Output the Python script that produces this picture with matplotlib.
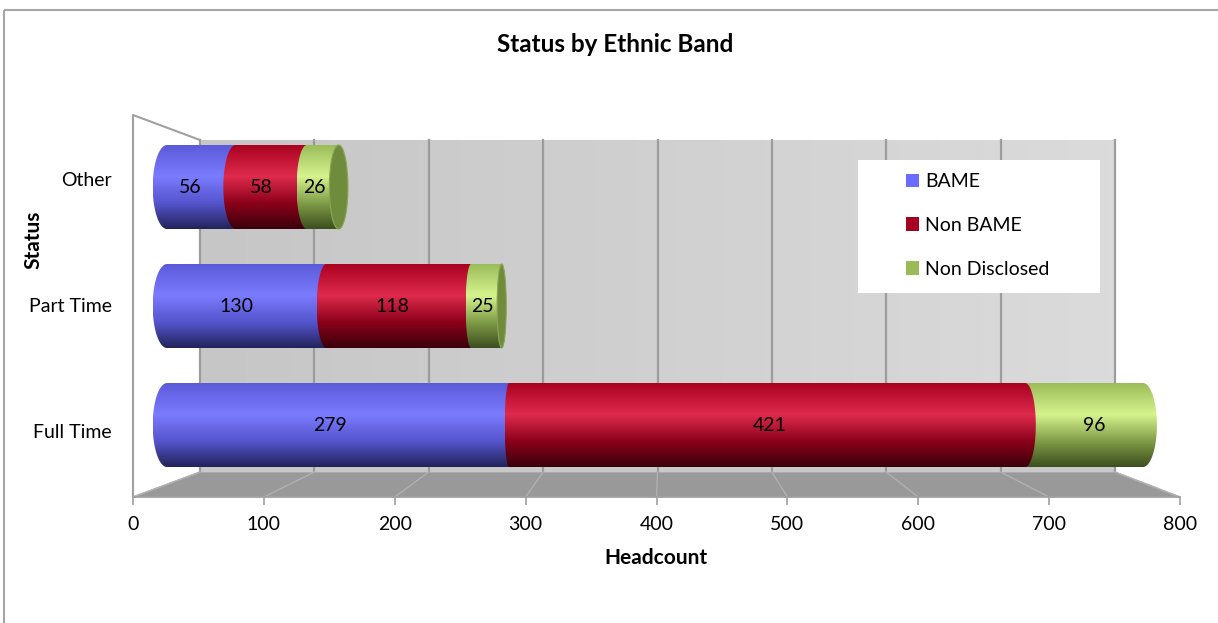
import numpy as np
import matplotlib.pyplot as plt
from matplotlib.patches import Polygon, Rectangle, Ellipse, Patch, PathPatch
from matplotlib.path import Path
from matplotlib.colors import LinearSegmentedColormap

plt.rcParams['font.family'] = ['Lato', 'DejaVu Sans']

# headcount by status (bottom to top) and ethnic band
status = ['Full Time', 'Part Time', 'Other']
bame = [279, 130, 56]
non_bame = [421, 118, 58]
non_disclosed = [96, 25, 26]
band_names = ['BAME', 'Non BAME', 'Non Disclosed']
x_ticks = [0, 100, 200, 300, 400, 500, 600, 700, 800]

W, H = 1218, 623
fig = plt.figure(figsize=(W / 100, H / 100), dpi=100)


def fig_box(x0, y0, x1, y1):
    # pixel box (origin top-left) -> figure fraction rect
    return [x0 / W, 1 - y1 / H, (x1 - x0) / W, (y1 - y0) / H]


# ---- background: frame, walls, floor (pixel coords) ----
bg = fig.add_axes([0, 0, 1, 1])
bg.set_xlim(0, W)
bg.set_ylim(H, 0)
bg.axis('off')

bg.add_patch(Rectangle((4, 10), 1400, 800, fill=False, edgecolor='#a6a6a6', lw=1.5))

front_x0, front_x1 = 133, 1180
back_x0, back_x1 = 200, 1115
wall_top, back_floor, front_floor = 140, 472, 497

wall_grad = np.linspace(0, 1, 256).reshape(1, -1)
wall_cmap = LinearSegmentedColormap.from_list('wall', ['#c6c6c6', '#dbdbdb'])
bg.imshow(wall_grad, cmap=wall_cmap, aspect='auto',
          extent=(back_x0, back_x1, back_floor, wall_top), zorder=1)

# left side wall outline
bg.plot([front_x0, front_x0, back_x0], [front_floor, 115, wall_top], color='#a0a0a0', lw=1.5, zorder=3)

# floor
bg.add_patch(Polygon([(front_x0, front_floor), (back_x0, back_floor), (back_x1, back_floor),
                      (front_x1, front_floor)], closed=True, facecolor='#999999',
                     edgecolor='#b4b4b4', lw=1, zorder=2))
bg.add_patch(Rectangle((back_x0, back_floor - 5), back_x1 - back_x0, 5,
                       facecolor='#c9c9c9', edgecolor='none', zorder=2))

# ---- front value axis ----
axf = fig.add_axes(fig_box(front_x0, 490, front_x1, front_floor))
axf.set_xlim(0, 800)
axf.set_xticks(x_ticks)
axf.set_yticks([])
for side in ['top', 'left', 'right']:
    axf.spines[side].set_visible(False)
axf.spines['bottom'].set_color('#a0a0a0')
axf.spines['bottom'].set_linewidth(1.2)
axf.patch.set_alpha(0)
axf.tick_params(axis='x', length=6, width=1.2, color='#a0a0a0', labelsize=14, pad=8)

# gridlines on back wall and floor
for v in axf.get_xticks():
    xb = back_x0 + v / 800 * (back_x1 - back_x0)
    xf = front_x0 + v / 800 * (front_x1 - front_x0)
    bg.plot([xb, xb], [wall_top, back_floor], color='#9c9c9c', lw=1.6, zorder=2)
    bg.plot([xb, xf], [back_floor, front_floor], color='#b0b0b0', lw=1, zorder=2)

# ---- cylinders ----
# value 0 sits at x=167 px, 1.226 px per unit; axes padded by 25 units each side
px0, kpx, padv = 167, 1.226, 25
ax = fig.add_axes(fig_box(px0 - padv * kpx, 140, px0 + (800 + padv) * kpx, 475))
ax.axis('off')
ax.patch.set_alpha(0)

eye = 402   # value under the viewpoint
h = 0.353   # cylinder half height in category units

cmaps = [
    LinearSegmentedColormap.from_list('b', [(0, '#5a5ad8'), (0.38, '#7b7bff'), (0.7, '#5454cc'), (1, '#23235a')]),
    LinearSegmentedColormap.from_list('r', [(0, '#a8001f'), (0.38, '#df2b4d'), (0.7, '#8a0019'), (1, '#3a000b')]),
    LinearSegmentedColormap.from_list('g', [(0, '#98ba58'), (0.38, '#d6f48e'), (0.7, '#7f9b47'), (1, '#3c4e1f')]),
]
face_color = '#6f8b3c'
legend_colors = ['#6b6bff', '#a50021', '#9bbb59']


def semi(v):
    return max(1.5, 0.029 * abs(v - eye))


def cylinder_path(a, b, yc, n=40):
    sa, sb = semi(a), semi(b)
    t = np.linspace(np.pi / 2, 3 * np.pi / 2, n)
    left = np.column_stack([a + sa * np.cos(t), yc + h * np.sin(t)])
    t2 = np.linspace(-np.pi / 2, np.pi / 2, n)
    right = np.column_stack([b + sb * np.cos(t2), yc + h * np.sin(t2)])
    return Path(np.vstack([left, right, left[:1]]), closed=True)


grad = np.linspace(0, 1, 256).reshape(-1, 1)
for i, name in enumerate(status):
    vals = [bame[i], non_bame[i], non_disclosed[i]]
    starts = np.concatenate([[0], np.cumsum(vals)[:-1]])
    for j, (a, v) in enumerate(zip(starts, vals)):
        b = a + v
        dist = 0 if a <= eye <= b else min(abs(a - eye), abs(b - eye))
        z = 10 - dist / 100
        path = cylinder_path(a, b, i)
        clip = PathPatch(path, facecolor='none', edgecolor='none', transform=ax.transData)
        ax.add_patch(clip)
        im = ax.imshow(grad, cmap=cmaps[j], aspect='auto', origin='upper',
                       extent=(a - semi(a), b + semi(b), i - h, i + h), zorder=z)
        im.set_clip_path(clip)
        mid = (a + b) / 2
        ax.text(mid + 0.025 * (mid - eye), i, str(v), ha='center', va='center',
                fontsize=14, color='black', zorder=20)
    end = sum(vals)
    if end < eye:
        ax.add_patch(Ellipse((end, i), 2 * semi(end), 2 * h, facecolor=face_color,
                             edgecolor='#8aa655', lw=0.8, zorder=15))

ax.set_xlim(-padv, 800 + padv)
ax.set_ylim(-0.42, 2.395)

# ---- category labels ----
label_y = [433, 306, 181]
for name, y in zip(status, label_y):
    fig.text(112 / W, 1 - y / H, name, ha='right', va='center', fontsize=14)

fig.text(615 / W, 1 - 45 / H, 'Status by Ethnic Band', ha='center', va='center',
         fontsize=17.5, fontweight='bold')
fig.text(656 / W, 1 - 558 / H, 'Headcount', ha='center', va='center',
         fontsize=15, fontweight='bold')
fig.text(33 / W, 1 - 240 / H, 'Status', ha='center', va='center', rotation=90,
         fontsize=15, fontweight='bold')

# ---- legend ----
bg.add_patch(Rectangle((858, 160), 242, 133, facecolor='white', edgecolor='none', zorder=5))
handles = [Patch(facecolor=c, edgecolor='none') for c in legend_colors]
fig.legend(handles, band_names, loc='upper left', bbox_to_anchor=(906 / W, 1 - 173 / H),
           frameon=False, fontsize=14, handlelength=0.68, handleheight=0.68,
           handletextpad=0.3, labelspacing=1.38, borderpad=0, borderaxespad=0)

plt.savefig('out.png', dpi=100)
